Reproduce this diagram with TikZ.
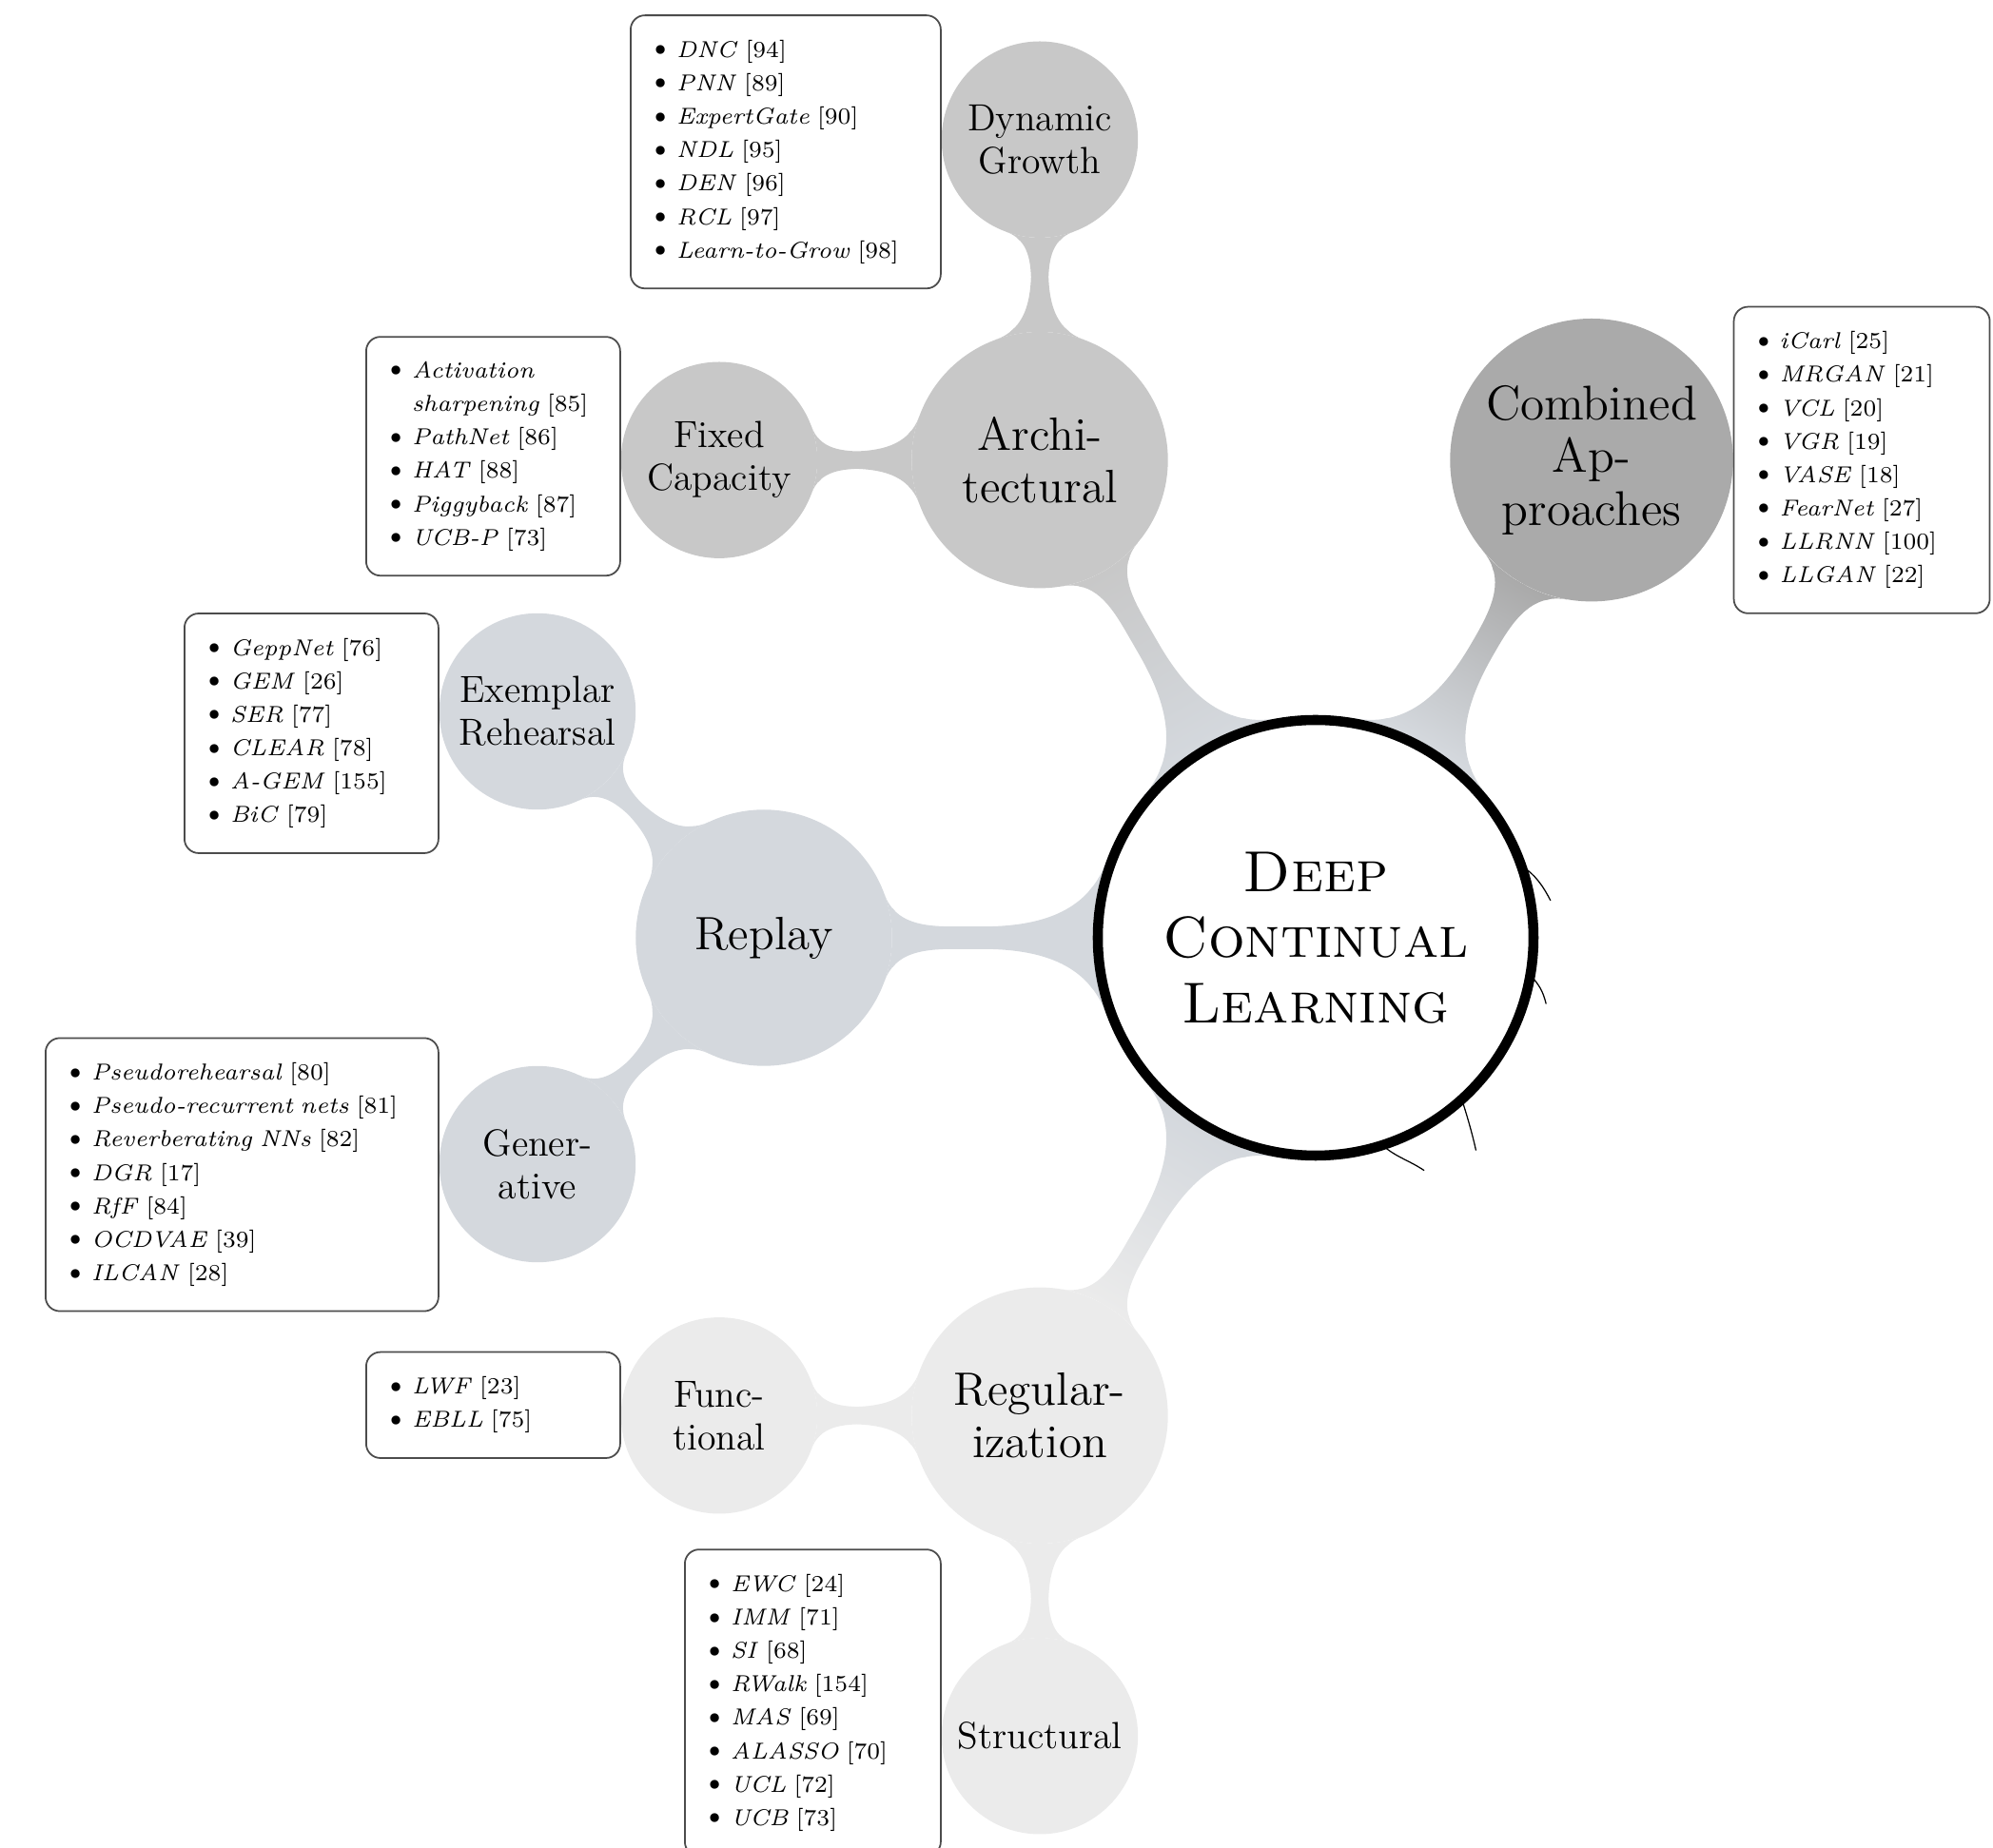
\documentclass[tikz,border=0pt]{standalone}
\usetikzlibrary{mindmap,backgrounds,positioning}

\definecolor{archgray}{RGB}{200,200,200}
\definecolor{combgray}{RGB}{170,170,170}
\definecolor{replaygray}{RGB}{212,216,221}
\definecolor{reggray}{RGB}{235,235,235}

\newcommand{\dotmark}{\hspace*{-0.1em}\raisebox{0.02em}{\scalebox{1.3}{\textbullet}}\hspace{0.12em}}
\newcommand{\mref}[2]{\dotmark\textit{#1} [#2]}

\tikzset{
  topic/.style={circle,fill=#1,draw=#1,line width=0.4pt,align=center,inner sep=0pt,text=black},
  maintopic/.style={topic=#1,minimum size=2.68cm,font=\fontsize{14}{15.5}\selectfont},
  subtopic/.style={topic=#1,minimum size=2.05cm,font=\fontsize{11.3}{12.8}\selectfont},
  refbox/.style={draw=black!70,line width=0.5pt,fill=white,rounded corners=1.5mm,align=left,
    inner xsep=0.2cm,inner ysep=0.26cm,font=\fontsize{6.9}{10}\selectfont},
  link/.style 2 args={line width=#1,circle connection bar switch color=from (#2) to (#2)},
  linkto/.style n args={3}{line width=#1,circle connection bar switch color=from (#2) to (#3)}
}

\begin{document}
\begin{tikzpicture}
  \useasboundingbox (-13.83,-9.57) rectangle (7.12,9.86);

  % centre
  \node[circle,draw=black,line width=3pt,fill=white,minimum size=4.58cm,align=center,
        font=\fontsize{17.3}{19.6}\selectfont] (dcl) at (0,0) {\textsc{Deep}\\\textsc{Continual}\\\textsc{Learning}};

  % first level
  \node[maintopic=archgray] (arch) at (120:5.8) {Archi-\\tectural};
  \node[maintopic=combgray,minimum size=2.96cm,font=\fontsize{14.6}{15.8}\selectfont] (comb) at (60:5.8) {Combined\\Ap-\\proaches};
  \node[maintopic=replaygray] (replay) at (180:5.8) {Replay};
  \node[maintopic=reggray] (reg) at (240:5.8) {Regular-\\ization};

  % second level
  \node[subtopic=archgray,on grid,above=3.37cm of arch] (dyn) {Dynamic\\Growth};
  \node[subtopic=archgray,on grid,left=3.37cm of arch] (fix) {Fixed\\Capacity};
  \node[subtopic=replaygray,on grid,above left=2.38cm and 2.38cm of replay] (exem) {Exemplar\\Rehearsal};
  \node[subtopic=replaygray,on grid,below left=2.38cm and 2.38cm of replay] (gen) {Gener-\\ative};
  \node[subtopic=reggray,on grid,left=3.37cm of reg] (func) {Func-\\tional};
  \node[subtopic=reggray,on grid,below=3.37cm of reg] (struc) {Structural};

  % connectors
  \begin{scope}[on background layer]
    \path (dcl) to[linkto={0.25cm}{replaygray}{archgray}] (arch);
    \path (dcl) to[linkto={0.25cm}{replaygray}{combgray}] (comb);
    \path (dcl) to[link={0.25cm}{replaygray}] (replay);
    \path (dcl) to[linkto={0.25cm}{replaygray}{reggray}] (reg);
    \path (arch) to[link={0.2cm}{archgray}] (dyn);
    \path (arch) to[link={0.2cm}{archgray}] (fix);
    \path (replay) to[link={0.2cm}{replaygray}] (exem);
    \path (replay) to[link={0.2cm}{replaygray}] (gen);
    \path (reg) to[link={0.2cm}{reggray}] (func);
    \path (reg) to[link={0.2cm}{reggray}] (struc);
  \end{scope}

  % brush hairs on the ring
  \draw[line width=0.35pt] (19:2.3) .. controls (16:2.4) and (13:2.45) .. (9:2.5);
  \draw[line width=0.35pt] (-10:2.3) .. controls (-12:2.4) and (-13:2.45) .. (-16:2.52);
  \draw[line width=0.35pt] (-48:2.3) .. controls (-50:2.5) and (-52:2.7) .. (-53:2.8);
  \draw[line width=0.35pt] (-72:2.3) .. controls (-70:2.45) and (-67:2.55) .. (-65:2.7);

  % method lists
  \node[refbox,text width=2.86cm,left=0pt of dyn,yshift=-0.13cm] (dynbox) {%
    \mref{DNC}{94}\\\mref{PNN}{89}\\\mref{ExpertGate}{90}\\\mref{NDL}{95}\\%
    \mref{DEN}{96}\\\mref{RCL}{97}\\\mref{Learn-to-Grow}{98}};
  \node[refbox,text width=2.27cm,left=0pt of fix,yshift=0.04cm] (fixbox) {%
    \dotmark\textit{Activation}\\\phantom{\dotmark}\textit{sharpening} [85]\\%
    \mref{PathNet}{86}\\\mref{HAT}{88}\\\mref{Piggyback}{87}\\\mref{UCB-P}{73}};
  \node[refbox,text width=2.29cm,right=0pt of comb] (combbox) {%
    \mref{iCarl}{25}\\\mref{MRGAN}{21}\\\mref{VCL}{20}\\\mref{VGR}{19}\\%
    \mref{VASE}{18}\\\mref{FearNet}{27}\\\mref{LLRNN}{100}\\\mref{LLGAN}{22}};
  \node[refbox,text width=2.27cm,left=0pt of exem,yshift=-0.23cm] (exembox) {%
    \mref{GeppNet}{76}\\\mref{GEM}{26}\\\mref{SER}{77}\\\mref{CLEAR}{78}\\%
    \mref{A-GEM}{155}\\\mref{BiC}{79}};
  \node[refbox,text width=3.73cm,left=0pt of gen,yshift=-0.11cm] (genbox) {%
    \mref{Pseudorehearsal}{80}\\\mref{Pseudo-recurrent nets}{81}\\\mref{Reverberating NNs}{82}\\%
    \mref{DGR}{17}\\\mref{RfF}{84}\\\mref{OCDVAE}{39}\\\mref{ILCAN}{28}};
  \node[refbox,text width=2.27cm,left=0pt of func,yshift=0.11cm] (funcbox) {%
    \mref{LWF}{23}\\\mref{EBLL}{75}};
  \node[refbox,text width=2.29cm,left=0pt of struc,yshift=0.35cm] (strucbox) {%
    \mref{EWC}{24}\\\mref{IMM}{71}\\\mref{SI}{68}\\\mref{RWalk}{154}\\%
    \mref{MAS}{69}\\\mref{ALASSO}{70}\\\mref{UCL}{72}\\\mref{UCB}{73}};
\end{tikzpicture}
\end{document}
